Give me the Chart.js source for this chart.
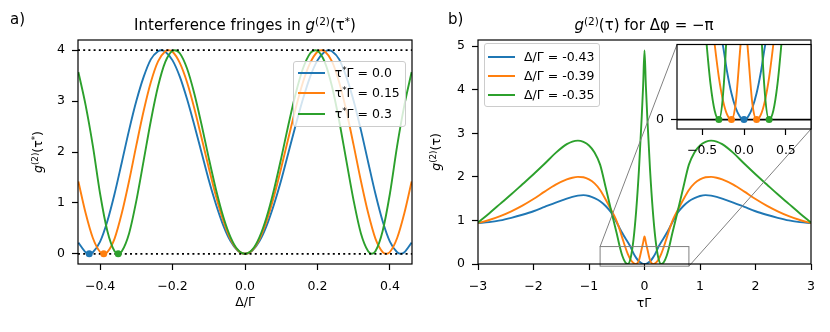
<!DOCTYPE html>
<html>
<head>
<meta charset="utf-8">
<script src="https://cdn.jsdelivr.net/npm/chart.js@4.4.1/dist/chart.umd.min.js"></script>
<style>
  html, body { margin: 0; padding: 0; background: #fff; }
  #fig { position: relative; width: 830px; height: 332px; overflow: hidden; font-family: 'DejaVu Sans', sans-serif; color: #000; }
  canvas { position: absolute; }
  .txt { position: absolute; white-space: nowrap; font-size: 12.5px; line-height: 16px; }
  .ttl { font-size: 15px; line-height: 18px; text-align: center; }
  .ylab { transform: rotate(-90deg); text-align: center; }
  sup { font-size: 70%; vertical-align: 0.45em; line-height: 0; }
  .legend { position: absolute; border: 1px solid #cccccc; border-radius: 3px; background: rgba(255,255,255,0.8); box-sizing: border-box; }
  .legend .sw { position: absolute; width: 27px; height: 2px; }
  .legend .lab { position: absolute; font-size: 12.5px; line-height: 16px; white-space: nowrap; }
</style>
</head>
<body>
<div id="fig">
  <canvas id="ca" width="420" height="332" style="left:0;top:0;width:420px;height:332px"></canvas>
  <canvas id="cb" width="410" height="332" style="left:420px;top:0;width:410px;height:332px"></canvas>
  <canvas id="ci" width="190" height="140" style="left:640px;top:30px;width:190px;height:140px"></canvas>

  <div class="txt ttl" style="left:10px;top:10px">a)</div>
  <div class="txt ttl" style="left:448px;top:10px">b)</div>
  <div class="txt ttl" style="left:45px;top:16px;width:400px">Interference fringes in <i>g</i><sup>(2)</sup>(τ<sup>*</sup>)</div>
  <div class="txt ttl" style="left:444px;top:16px;width:400px"><i>g</i><sup>(2)</sup>(τ) for Δφ = −π</div>
  <div class="txt" style="left:145px;top:294px;width:200px;text-align:center">Δ/Γ</div>
  <div class="txt" style="left:544px;top:295px;width:200px;text-align:center">τΓ</div>
  <div class="txt ylab" style="left:-22px;top:144px;width:120px;height:16px"><i>g</i><sup>(2)</sup>(τ<sup>*</sup>)</div>
  <div class="txt ylab" style="left:376px;top:144px;width:120px;height:16px"><i>g</i><sup>(2)</sup>(τ)</div>

  <div class="legend" id="legA" style="left:293px;top:61px;width:113px;height:66px"></div>
  <div class="legend" id="legB" style="left:484px;top:43px;width:116px;height:64px"></div>
</div>
<script>
const FONT = "'DejaVu Sans'";
const BLUE = '#1f77b4', ORANGE = '#ff7f0e', GREEN = '#2ca02c';

// ---- panel a: fringes vs detuning, one curve per delay tau*
const legendA = ['0.0', '0.15', '0.3'];
const deltaBlue = [-0.46, -0.44, -0.43, -0.42, -0.40, -0.38, -0.36, -0.34, -0.32, -0.30, -0.28, -0.26, -0.24, -0.231, -0.22, -0.20, -0.18, -0.16, -0.14, -0.12, -0.10, -0.08, -0.06, -0.04, -0.02, 0,
  0.02, 0.04, 0.06, 0.08, 0.10, 0.12, 0.14, 0.16, 0.18, 0.20, 0.22, 0.231, 0.24, 0.26, 0.28, 0.30, 0.32, 0.34, 0.36, 0.38, 0.40, 0.42, 0.43, 0.44, 0.46];
const g2Blue = [0.22, 0.03, 0, 0.03, 0.24, 0.64, 1.18, 1.80, 2.43, 3.00, 3.47, 3.82, 3.98, 4.0, 3.97, 3.80, 3.48, 3.04, 2.53, 1.99, 1.45, 0.97, 0.56, 0.25, 0.06, 0,
  0.06, 0.25, 0.56, 0.97, 1.45, 1.99, 2.53, 3.04, 3.48, 3.80, 3.97, 4.0, 3.98, 3.82, 3.47, 3.00, 2.43, 1.80, 1.18, 0.64, 0.24, 0.03, 0, 0.03, 0.22];
const deltaOrange = [-0.46, -0.44, -0.42, -0.40, -0.39, -0.38, -0.36, -0.34, -0.32, -0.30, -0.28, -0.26, -0.24, -0.22, -0.211, -0.20, -0.18, -0.16, -0.14, -0.12, -0.10, -0.08, -0.06, -0.04, -0.02, 0,
  0.02, 0.04, 0.06, 0.08, 0.10, 0.12, 0.14, 0.16, 0.18, 0.20, 0.211, 0.22, 0.24, 0.26, 0.28, 0.30, 0.32, 0.34, 0.36, 0.38, 0.39, 0.40, 0.42, 0.44, 0.46];
const g2Orange = [1.42, 0.80, 0.31, 0.036, 0, 0.035, 0.30, 0.80, 1.43, 2.13, 2.80, 3.37, 3.78, 3.98, 4.0, 3.97, 3.75, 3.37, 2.86, 2.28, 1.69, 1.13, 0.65, 0.29, 0.07, 0,
  0.07, 0.29, 0.65, 1.13, 1.69, 2.28, 2.86, 3.37, 3.75, 3.97, 4.0, 3.98, 3.78, 3.37, 2.80, 2.13, 1.43, 0.80, 0.30, 0.035, 0, 0.036, 0.31, 0.80, 1.42];
const deltaGreen = [-0.46, -0.44, -0.42, -0.40, -0.38, -0.36, -0.35, -0.34, -0.32, -0.30, -0.28, -0.26, -0.24, -0.22, -0.20, -0.194, -0.18, -0.16, -0.14, -0.12, -0.10, -0.08, -0.06, -0.04, -0.02, 0,
  0.02, 0.04, 0.06, 0.08, 0.10, 0.12, 0.14, 0.16, 0.18, 0.194, 0.20, 0.22, 0.24, 0.26, 0.28, 0.30, 0.32, 0.34, 0.35, 0.36, 0.38, 0.40, 0.42, 0.44, 0.46];
const g2Green = [3.57, 2.92, 2.12, 1.18, 0.45, 0.05, 0, 0.05, 0.40, 1.04, 1.82, 2.61, 3.29, 3.77, 3.99, 4.0, 3.94, 3.64, 3.15, 2.54, 1.88, 1.26, 0.73, 0.33, 0.08, 0,
  0.08, 0.33, 0.73, 1.26, 1.88, 2.54, 3.15, 3.64, 3.94, 4.0, 3.99, 3.77, 3.29, 2.61, 1.82, 1.04, 0.40, 0.05, 0, 0.05, 0.45, 1.18, 2.12, 2.92, 3.57];
const minDelta = [-0.43, -0.39, -0.35];
const minG2 = [0, 0, 0];
const refLines = [0, 4];
const xRangeA = [-0.461, 0.461], yRangeA = [-0.2, 4.2];
const xTicksA = [-0.4, -0.2, 0, 0.2, 0.4], xLabelsA = ['−0.4', '−0.2', '0.0', '0.2', '0.4'];
const yTicksA = [0, 1, 2, 3, 4], yLabelsA = ['0', '1', '2', '3', '4'];

// ---- panel b: g2(tau) for three detunings
const legendB = ['-0.43', '-0.39', '-0.35'];
const tau = [-3, -2.8, -2.6, -2.4, -2.2, -2, -1.8, -1.6, -1.4, -1.3, -1.2, -1.1, -1, -0.9, -0.8, -0.7, -0.6, -0.55, -0.5, -0.45, -0.4, -0.35, -0.3, -0.25, -0.2, -0.15, -0.1, -0.05, -0.025, 0,
  0.025, 0.05, 0.1, 0.15, 0.2, 0.25, 0.3, 0.35, 0.4, 0.45, 0.5, 0.55, 0.6, 0.7, 0.8, 0.9, 1, 1.1, 1.2, 1.3, 1.4, 1.6, 1.8, 2, 2.2, 2.4, 2.6, 2.8, 3];
const g2TauBlue = [0.94, 0.96, 1.0, 1.06, 1.13, 1.21, 1.31, 1.41, 1.50, 1.54, 1.57, 1.58, 1.56, 1.51, 1.44, 1.33, 1.18, 1.07, 0.95, 0.83, 0.71, 0.60, 0.50, 0.39, 0.25, 0.14, 0.063, 0.016, 0.004, 0,
  0.004, 0.016, 0.063, 0.14, 0.25, 0.39, 0.50, 0.60, 0.71, 0.83, 0.95, 1.07, 1.18, 1.33, 1.44, 1.51, 1.56, 1.58, 1.57, 1.54, 1.50, 1.41, 1.31, 1.21, 1.13, 1.06, 1.0, 0.96, 0.94];
const g2TauOrange = [0.94, 1.01, 1.10, 1.21, 1.34, 1.49, 1.66, 1.82, 1.94, 1.98, 2.0, 1.99, 1.94, 1.85, 1.70, 1.48, 1.24, 1.12, 0.98, 0.80, 0.60, 0.40, 0.225, 0.10, 0.025, 0, 0.085, 0.35, 0.49, 0.63,
  0.49, 0.35, 0.085, 0, 0.025, 0.10, 0.225, 0.40, 0.60, 0.80, 0.98, 1.12, 1.24, 1.48, 1.70, 1.85, 1.94, 1.99, 2.0, 1.98, 1.94, 1.82, 1.66, 1.49, 1.34, 1.21, 1.10, 1.01, 0.94];
const g2TauGreen = [0.95, 1.16, 1.38, 1.60, 1.83, 2.06, 2.30, 2.55, 2.75, 2.81, 2.83, 2.80, 2.72, 2.56, 2.28, 1.76, 1.22, 0.96, 0.70, 0.42, 0.19, 0.047, 0, 0.135, 0.54, 1.22, 2.16, 3.38, 4.08, 4.9,
  4.08, 3.38, 2.16, 1.22, 0.54, 0.135, 0, 0.047, 0.19, 0.42, 0.70, 0.96, 1.22, 1.76, 2.28, 2.56, 2.72, 2.80, 2.83, 2.81, 2.75, 2.55, 2.30, 2.06, 1.83, 1.60, 1.38, 1.16, 0.95];
const xRangeB = [-3, 3], yRangeB = [0, 5.14];
const xTicksB = [-3, -2, -1, 0, 1, 2, 3], xLabelsB = ['−3', '−2', '−1', '0', '1', '2', '3'];
const yTicksB = [0, 1, 2, 3, 4, 5], yLabelsB = ['0', '1', '2', '3', '4', '5'];

// ---- inset of panel b (zoom on the zeros)
const insetXRange = [-0.8, 0.8], insetYRange = [-0.05, 0.4];
const xTicksIn = [-0.5, 0, 0.5], xLabelsIn = ['−0.5', '0.0', '0.5'];
const yTicksIn = [0], yLabelsIn = ['0'];
const zeroTau = [-0.3, -0.15, 0, 0.15, 0.3];
const zeroG2 = [0, 0, 0, 0, 0];
const zeroColors = [GREEN, ORANGE, BLUE, ORANGE, GREEN];

function pts(xs, ys) { return xs.map((x, i) => ({ x, y: ys[i] })); }

function curve(xs, ys, color, order) {
  return { data: pts(xs, ys), borderColor: color, borderWidth: 1.9, pointRadius: 0, fill: false,
    cubicInterpolationMode: 'monotone', order };
}

function dots(xs, ys, colors) {
  return { data: pts(xs, ys), showLine: false, pointRadius: 3.5, pointHoverRadius: 3.5,
    pointBackgroundColor: colors, pointBorderWidth: 0, order: 0 };
}

function hline(y, range, dash, width) {
  return { data: pts(range, [y, y]), borderColor: '#000', borderWidth: width, borderDash: dash,
    pointRadius: 0, fill: false, tension: 0, order: 1 };
}

function axis(range, ticks, labels, size, pad) {
  return {
    type: 'linear', min: range[0], max: range[1],
    afterBuildTicks: s => { s.ticks = ticks.map(v => ({ value: v })); },
    afterFit: s => { if (s.isHorizontal()) s.height = size; else s.width = size; },
    grid: { display: true, drawOnChartArea: false, drawTicks: true, tickLength: 6, tickColor: '#000', tickWidth: 1.2 },
    border: { display: false },
    ticks: { padding: pad, color: '#000', font: { family: FONT, size: 12.5 }, maxRotation: 0, autoSkip: false,
      callback: (v, i) => labels[i] }
  };
}

// full box around every axes, optional white face (inset)
const spines = {
  id: 'spines',
  beforeDraw(chart, args, opts) {
    if (!opts.fill) return;
    const a = chart.chartArea, ctx = chart.ctx;
    ctx.save();
    ctx.fillStyle = '#fff';
    ctx.fillRect(a.left, a.top, a.right - a.left, a.bottom - a.top);
    ctx.restore();
  },
  afterDraw(chart) {
    const a = chart.chartArea, ctx = chart.ctx;
    ctx.save();
    ctx.strokeStyle = '#000';
    ctx.lineWidth = 1.2;
    ctx.strokeRect(a.left, a.top, a.right - a.left, a.bottom - a.top);
    ctx.restore();
  }
};

function baseOptions(padding, scales, fill) {
  return {
    responsive: false, animation: false, devicePixelRatio: 1, events: [],
    layout: { padding },
    plugins: { legend: { display: false }, tooltip: { enabled: false }, spines: { fill } },
    scales
  };
}

// panel a
new Chart(document.getElementById('ca'), {
  type: 'line',
  data: { datasets: [
    hline(refLines[0], xRangeA, [2, 3.2], 1.8),
    hline(refLines[1], xRangeA, [2, 3.2], 1.8),
    curve(deltaBlue, g2Blue, BLUE, 4),
    curve(deltaOrange, g2Orange, ORANGE, 3),
    curve(deltaGreen, g2Green, GREEN, 2),
    dots(minDelta, minG2, [BLUE, ORANGE, GREEN])
  ] },
  options: baseOptions({ left: 0, top: 40, right: 8, bottom: 0 }, {
    x: axis(xRangeA, xTicksA, xLabelsA, 68, 9),
    y: axis(yRangeA, yTicksA, yLabelsA, 78, 7)
  }, false),
  plugins: [spines]
});

// inset first, so panel b can connect to its corners
const ci = document.getElementById('ci');
const cb = document.getElementById('cb');
const insetChart = new Chart(ci, {
  type: 'line',
  data: { datasets: [
    hline(0, insetXRange, [], 1.8),
    curve(tau, g2TauBlue, BLUE, 4),
    curve(tau, g2TauOrange, ORANGE, 3),
    curve(tau, g2TauGreen, GREEN, 2),
    dots(zeroTau, zeroG2, zeroColors)
  ] },
  options: baseOptions({ left: 0, top: 10, right: 19, bottom: 0 }, {
    x: axis(insetXRange, xTicksIn, xLabelsIn, 41, 8),
    y: axis(insetYRange, yTicksIn, yLabelsIn, 37, 7)
  }, true),
  plugins: [spines]
});

const zoomMark = {
  id: 'zoomMark',
  afterDatasetsDraw(chart) {
    const x = chart.scales.x, y = chart.scales.y, ctx = chart.ctx;
    const l = x.getPixelForValue(insetXRange[0]), r = x.getPixelForValue(insetXRange[1]);
    const t = y.getPixelForValue(insetYRange[1]), b = y.getPixelForValue(insetYRange[0]);
    const ia = insetChart.chartArea;
    const dx = ci.offsetLeft - cb.offsetLeft, dy = ci.offsetTop - cb.offsetTop;
    ctx.save();
    ctx.strokeStyle = '#808080';
    ctx.lineWidth = 1;
    ctx.strokeRect(l, t, r - l, b - t);
    ctx.beginPath();
    ctx.moveTo(l, t); ctx.lineTo(ia.left + dx, ia.top + dy);
    ctx.moveTo(r, b); ctx.lineTo(ia.right + dx, ia.bottom + dy);
    ctx.stroke();
    ctx.restore();
  }
};

// panel b
new Chart(cb, {
  type: 'line',
  data: { datasets: [
    curve(tau, g2TauBlue, BLUE, 4),
    curve(tau, g2TauOrange, ORANGE, 3),
    curve(tau, g2TauGreen, GREEN, 2)
  ] },
  options: baseOptions({ left: 0, top: 40, right: 19, bottom: 0 }, {
    x: axis(xRangeB, xTicksB, xLabelsB, 68, 9),
    y: axis(yRangeB, yTicksB, yLabelsB, 58, 7)
  }, false),
  plugins: [spines, zoomMark]
});

// legends (html boxes over the canvases)
function fillLegend(id, labels, rows, swLeft, textLeft) {
  const box = document.getElementById(id);
  [BLUE, ORANGE, GREEN].forEach((c, i) => {
    const sw = document.createElement('div');
    sw.className = 'sw';
    sw.style.background = c;
    sw.style.left = swLeft + 'px';
    sw.style.top = (rows[i] - 1) + 'px';
    box.appendChild(sw);
    const lab = document.createElement('div');
    lab.className = 'lab';
    lab.style.left = textLeft + 'px';
    lab.style.top = (rows[i] - 8) + 'px';
    lab.innerHTML = labels[i];
    box.appendChild(lab);
  });
}
fillLegend('legA', legendA.map(v => 'τ<sup>*</sup>Γ = ' + v), [10.7, 31.3, 52], 4, 40.7);
fillLegend('legB', legendB.map(v => 'Δ/Γ = ' + v), [13.3, 32, 51], 3, 39);
</script>
</body>
</html>
